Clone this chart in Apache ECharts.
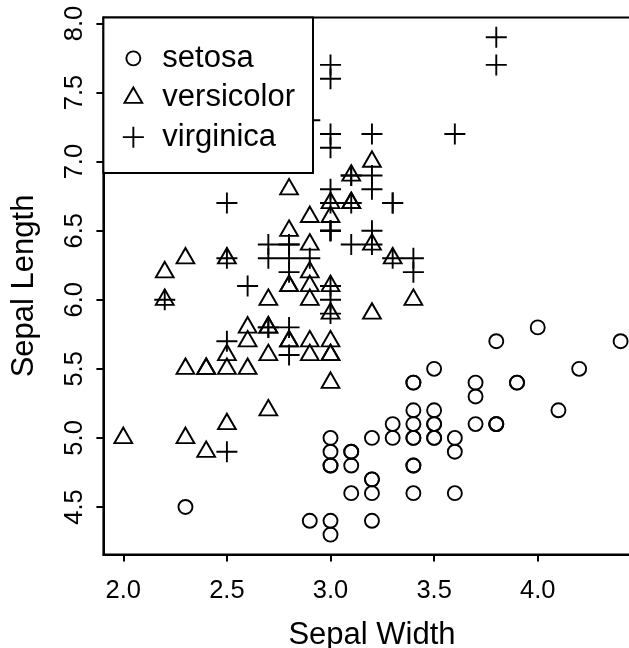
<!DOCTYPE html>
<html>
<head>
<meta charset="utf-8">
<script src="https://cdn.jsdelivr.net/npm/echarts@6/dist/echarts.min.js"></script>
<style>html,body{margin:0;padding:0;background:#fff;}#c{width:629px;height:648px;}</style>
</head>
<body>
<div id="c"></div>
<script>
// Iris data: Sepal.Width (x) and Sepal.Length (y)
var speciesNames = ['setosa', 'versicolor', 'virginica'];
var setosaWidth = [3.5,3.0,3.2,3.1,3.6,3.9,3.4,3.4,2.9,3.1,3.7,3.4,3.0,3.0,4.0,4.4,3.9,3.5,3.8,3.8,3.4,3.7,3.6,3.3,3.4,3.0,3.4,3.5,3.4,3.2,3.1,3.4,4.1,4.2,3.1,3.2,3.5,3.6,3.0,3.4,3.5,2.3,3.2,3.5,3.8,3.0,3.8,3.2,3.7,3.3];
var setosaLength = [5.1,4.9,4.7,4.6,5.0,5.4,4.6,5.0,4.4,4.9,5.4,4.8,4.8,4.3,5.8,5.7,5.4,5.1,5.7,5.1,5.4,5.1,4.6,5.1,4.8,5.0,5.0,5.2,5.2,4.7,4.8,5.4,5.2,5.5,4.9,5.0,5.5,4.9,4.4,5.1,5.0,4.5,4.4,5.0,5.1,4.8,5.1,4.6,5.3,5.0];
var versicolorWidth = [3.2,3.2,3.1,2.3,2.8,2.8,3.3,2.4,2.9,2.7,2.0,3.0,2.2,2.9,2.9,3.1,3.0,2.7,2.2,2.5,3.2,2.8,2.5,2.8,2.9,3.0,2.8,3.0,2.9,2.6,2.4,2.4,2.7,2.7,3.0,3.4,3.1,2.3,3.0,2.5,2.6,3.0,2.6,2.3,2.7,3.0,2.9,2.9,2.5,2.8];
var versicolorLength = [7.0,6.4,6.9,5.5,6.5,5.7,6.3,4.9,6.6,5.2,5.0,5.9,6.0,6.1,5.6,6.7,5.6,5.8,6.2,5.6,5.9,6.1,6.3,6.1,6.4,6.6,6.8,6.7,6.0,5.7,5.5,5.5,5.8,6.0,5.4,6.0,6.7,6.3,5.6,5.5,5.5,6.1,5.8,5.0,5.6,5.7,5.7,6.2,5.1,5.7];
var virginicaWidth = [3.3,2.7,3.0,2.9,3.0,3.0,2.5,2.9,2.5,3.6,3.2,2.7,3.0,2.5,2.8,3.2,3.0,3.8,2.6,2.2,3.2,2.8,2.8,2.7,3.3,3.2,2.8,3.0,2.8,3.0,2.8,3.8,2.8,2.8,2.6,3.0,3.4,3.1,3.0,3.1,3.1,3.1,2.7,3.2,3.3,3.0,2.5,3.0,3.4,3.0];
var virginicaLength = [6.3,5.8,7.1,6.3,6.5,7.6,4.9,7.3,6.7,7.2,6.5,6.4,6.8,5.7,5.8,6.4,6.5,7.7,7.7,6.0,6.9,5.6,7.7,6.3,6.7,7.2,6.2,6.1,6.4,7.2,7.4,7.9,6.4,6.3,6.1,7.7,6.3,6.4,6.0,6.9,6.7,6.9,5.8,6.8,6.7,6.7,6.3,6.5,6.2,5.9];
var xTicks = [2.0, 2.5, 3.0, 3.5, 4.0];
var yTicks = [4.5, 5.0, 5.5, 6.0, 6.5, 7.0, 7.5, 8.0];

function zip(a, b) { return a.map(function (v, i) { return [v, b[i]]; }); }

var FONT = '"Liberation Sans", Arial, Helvetica, sans-serif';
var plusPath = 'path://M0,10.5L21,10.5M10.5,0L10.5,21';
var legendIcons = [
  'path://M0,0M48,30M31,15A7,7,0,1,1,17,15A7,7,0,1,1,31,15Z',
  'path://M0,0M48,30M24,4.7L32.92,20.15L15.08,20.15Z',
  'path://M0,0M48,30M13.5,15L34.5,15M24,4.5L24,25.5'
];
var markStyle = { color: 'rgba(0,0,0,0)', borderColor: '#000', borderWidth: 1.9, opacity: 1 };

var chart = echarts.init(document.getElementById('c'));
chart.setOption({
  animation: false,
  backgroundColor: '#fff',
  grid: { left: 103.4, top: 17.4, width: 537.1, height: 537.1, outerBoundsMode: 'none', containLabel: false, show: true, borderColor: '#000', borderWidth: 2, backgroundColor: 'transparent' },
  xAxis: {
    type: 'value', min: 1.904, max: 4.496,
    name: 'Sepal Width', nameLocation: 'middle', nameGap: 65,
    nameTextStyle: { fontSize: 31, color: '#000', fontFamily: FONT },
    axisLine: { show: true, onZero: false, lineStyle: { color: '#000', width: 2 } },
    axisTick: { show: true, inside: false, length: 7, customValues: xTicks, lineStyle: { color: '#000', width: 2 } },
    axisLabel: { customValues: xTicks, margin: 23, fontSize: 25.5, color: '#000', fontFamily: FONT, formatter: function (v) { return v.toFixed(1); } },
    splitLine: { show: false }
  },
  yAxis: {
    type: 'value', min: 4.156, max: 8.044,
    name: 'Sepal Length', nameLocation: 'middle', nameGap: 63, nameRotate: 90,
    nameTextStyle: { fontSize: 31, color: '#000', fontFamily: FONT },
    axisLine: { show: true, onZero: false, lineStyle: { color: '#000', width: 2 } },
    axisTick: { show: true, inside: false, length: 7, customValues: yTicks, lineStyle: { color: '#000', width: 2 } },
    axisLabel: { customValues: yTicks, rotate: 90, margin: 15, fontSize: 25.5, color: '#000', fontFamily: FONT, formatter: function (v) { return v.toFixed(1); } },
    splitLine: { show: false }
  },
  legend: {
    orient: 'vertical', left: 103.4, top: 17.4,
    padding: [25, 18, 20, 5], itemGap: 7.5, itemWidth: 48, itemHeight: 30,
    backgroundColor: '#fff', borderColor: '#000', borderWidth: 2, borderRadius: 0,
    selectedMode: false,
    textStyle: { fontSize: 31, color: '#000', fontFamily: FONT },
    itemStyle: { color: 'rgba(0,0,0,0)', borderColor: '#000', borderWidth: 1.9, opacity: 1 },
    data: speciesNames.map(function (n, i) { return { name: n, icon: legendIcons[i] }; })
  },
  series: [
    { name: speciesNames[0], type: 'scatter', symbol: 'circle', symbolSize: 14, itemStyle: markStyle, data: zip(setosaWidth, setosaLength) },
    { name: speciesNames[1], type: 'scatter', symbol: 'triangle', symbolSize: [17.8, 15.45], symbolOffset: [0, -2.6], itemStyle: markStyle, data: zip(versicolorWidth, versicolorLength) },
    { name: speciesNames[2], type: 'scatter', symbol: plusPath, symbolSize: 21, itemStyle: markStyle, data: zip(virginicaWidth, virginicaLength) }
  ]
});
</script>
</body>
</html>
